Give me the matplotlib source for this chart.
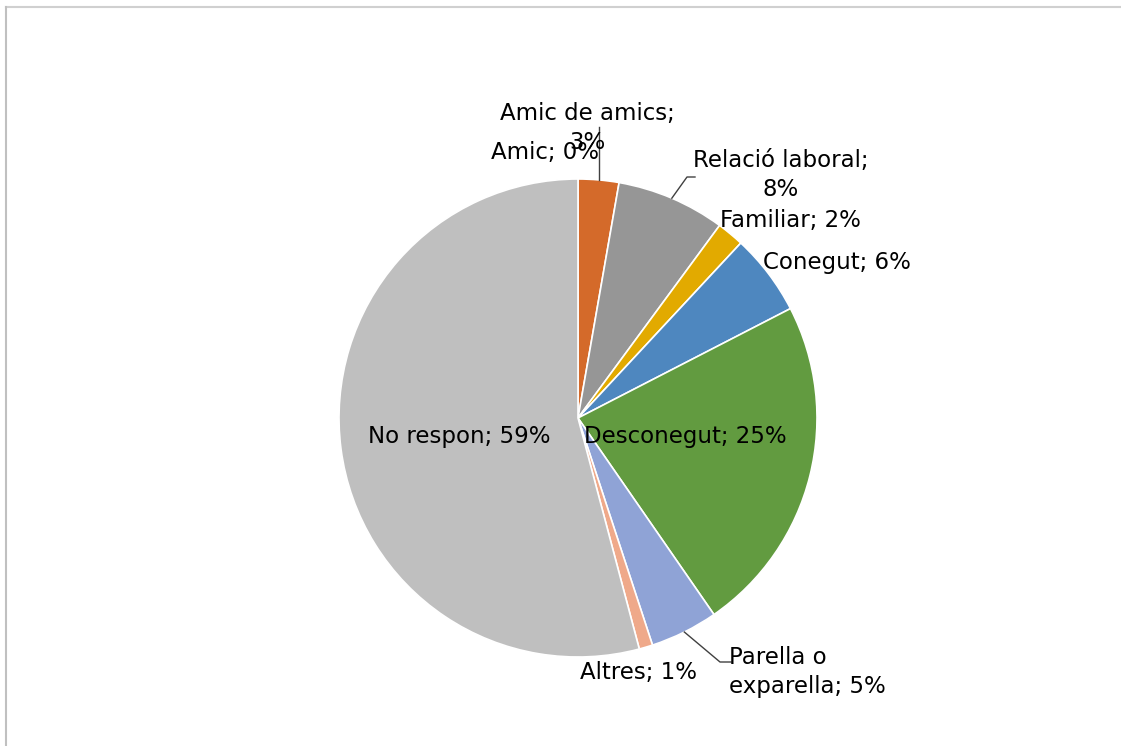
import numpy as np
import matplotlib
matplotlib.use("Agg")
import matplotlib.pyplot as plt

# Data (values as shown on the labels, pie normalises them)
categories = ["Amic", "Amic de amics", "Relació laboral", "Familiar", "Conegut",
              "Desconegut", "Parella o exparella", "Altres", "No respon"]
values = [0, 3, 8, 2, 6, 25, 5, 1, 59]
label_texts = ["Amic; 0%", "Amic de amics;\n3%", "Relació laboral;\n8%", "Familiar; 2%",
               "Conegut; 6%", "Desconegut; 25%", "Parella o\nexparella; 5%",
               "Altres; 1%", "No respon; 59%"]
colors = ["#4472C4", "#D46A2A", "#969696", "#E2AA00", "#4E87BF",
          "#629B40", "#8FA3D6", "#EFA98A", "#BFBFBF"]

W, H = 1121, 746
fig = plt.figure(figsize=(W / 100, H / 100), dpi=100)
ax = fig.add_axes([0, 0, 1, 1])

#pie geometry in pixels (y measured from bottom)
cx, cy, r = 578, H - 418, 239
wedges, _ = ax.pie(values, colors=colors, startangle=90, counterclock=False,
                   center=(cx, cy), radius=r,
                   wedgeprops=dict(edgecolor="white", linewidth=1.2))
ax.set_xlim(0, W)
ax.set_ylim(0, H)
ax.set_aspect("equal")
ax.axis("off")

#label positions (pixel coords from top-left), alignment
label_pos = [(545, 152, "center"), (587, 128, "center"), (781, 175, "center"),
             (790, 221, "center"), (837, 262, "center"), (685, 437, "center"),
             (729, 672, "left"), (638, 672, "center"), (459, 437, "center")]

font = dict(family=["DejaVu Sans"], fontsize=16.5, color="black")
for txt, (x, y, ha) in zip(label_texts, label_pos):
    ax.text(x, H - y, txt, ha=ha, va="center", linespacing=1.3, **font)

#leader lines
total = sum(values)
def rim_point(i):
    start = sum(values[:i])
    mid = (start + values[i] / 2) / total * 2 * np.pi
    return cx + r * np.sin(mid), cy + r * np.cos(mid)

x0, y0 = rim_point(1)
ax.plot([x0, x0], [y0, H - 127], color="#404040", lw=1)
x0, y0 = rim_point(2)
ax.plot([x0, 687, 695], [y0, H - 177, H - 177], color="#404040", lw=1)
x0, y0 = rim_point(6)
ax.plot([x0, 720, 731], [y0, H - 662, H - 662], color="#404040", lw=1)

#chart border
ax.plot([6, W + 5], [H - 7, H - 7], color="#D0D0D0", lw=1.5, clip_on=False)
ax.plot([6, 6], [H - 7, -5], color="#C0C0C0", lw=1.5, clip_on=False)

fig.savefig("out.png", dpi=100)
